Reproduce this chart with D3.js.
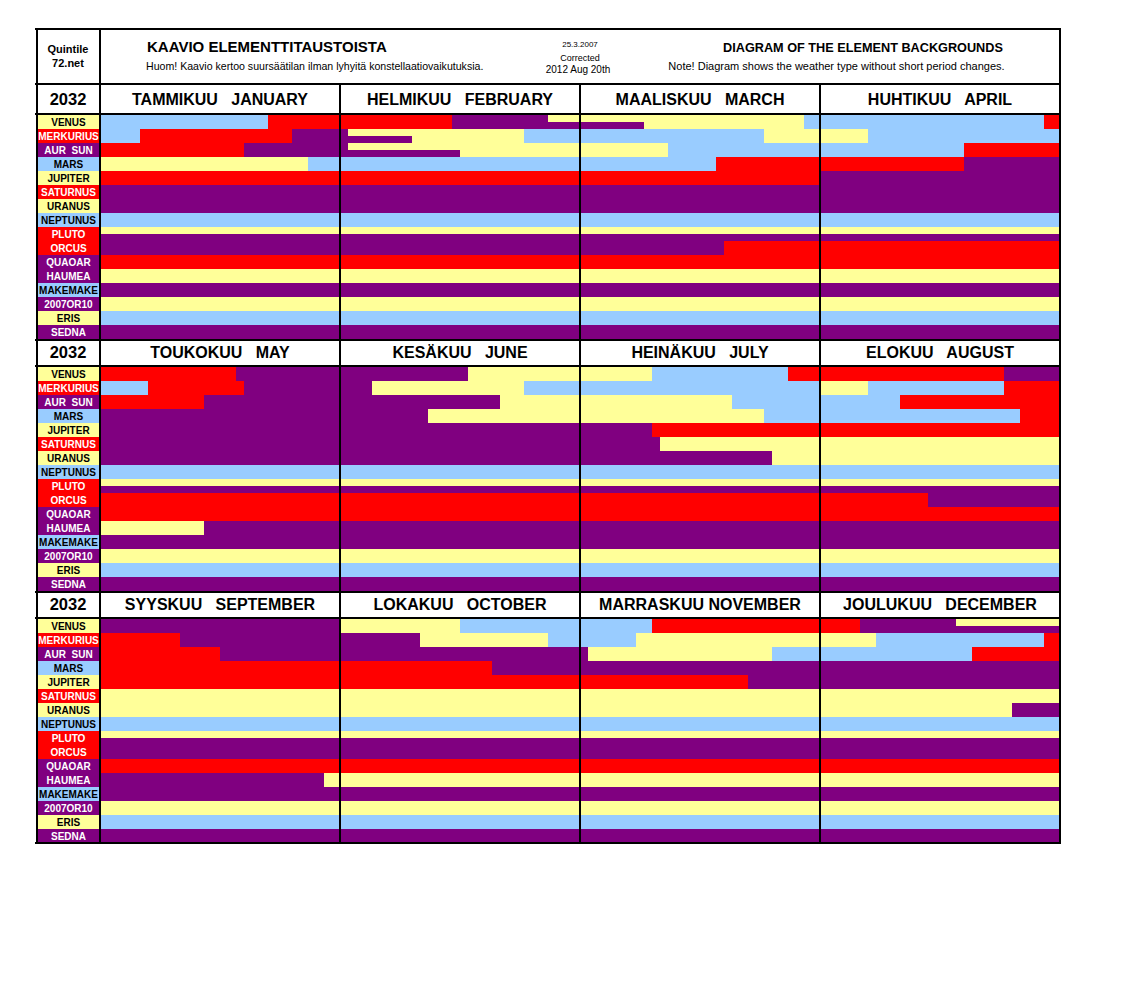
<!DOCTYPE html>
<html><head><meta charset="utf-8">
<script src="https://cdn.jsdelivr.net/npm/d3@7"></script>
<style>body{margin:0;background:#fff}svg{display:block}</style>
</head><body><svg id="c" width="1122" height="1000"></svg>
<script>
// ---------------- DATA ----------------
const COLORS = {R:"#FF0000", P:"#800080", Y:"#FFFF99", B:"#99CCFF"};
const year = "2032";
const monthTitles = ["TAMMIKUU   JANUARY","HELMIKUU   FEBRUARY","MAALISKUU   MARCH","HUHTIKUU   APRIL",
  "TOUKOKUU   MAY","KESÄKUU   JUNE","HEINÄKUU   JULY","ELOKUU   AUGUST",
  "SYYSKUU   SEPTEMBER","LOKAKUU   OCTOBER","MARRASKUU NOVEMBER","JOULUKUU   DECEMBER"];
const planets = ["VENUS","MERKURIUS","AUR  SUN","MARS","JUPITER","SATURNUS","URANUS","NEPTUNUS",
  "PLUTO","ORCUS","QUAOAR","HAUMEA","MAKEMAKE","2007OR10","ERIS","SEDNA"];
const labelColors = ["Y","R","P","B","Y","R","Y","B","R","R","P","P","B","P","Y","P"];

// change points: [position in months (0 = start of Jan, 12 = end of Dec), colour]
const venusTop = [[0,"B"],[0.70,"R"],[1.467,"P"],[1.867,"Y"],[2.933,"B"],[3.933,"R"],[4.567,"P"],[5.533,"Y"],
  [6.30,"B"],[6.867,"R"],[7.767,"P"],[9.0,"Y"],[9.5,"B"],[10.3,"R"],[11.167,"P"],[11.567,"Y"]];
const venusBottom = [[0,"B"],[0.70,"R"],[1.467,"P"],[2.267,"Y"],[2.933,"B"],[3.933,"R"],[4.567,"P"],[5.533,"Y"],
  [6.30,"B"],[6.867,"R"],[7.767,"P"],[9.0,"Y"],[9.5,"B"],[10.3,"R"],[11.167,"P"]];
const merkuriusTop = [[0,"B"],[0.167,"R"],[0.80,"P"],[1.033,"Y"],[1.767,"B"],[2.767,"Y"],[3.2,"B"],[4.2,"R"],
  [4.6,"P"],[5.133,"Y"],[5.767,"B"],[7.0,"Y"],[7.2,"B"],[7.767,"R"],[8.333,"P"],[9.333,"Y"],[9.867,"B"],
  [10.233,"Y"],[11.233,"B"],[11.933,"R"]];
const merkuriusBottom = [[0,"B"],[0.167,"R"],[0.80,"P"],[1.30,"Y"],[1.767,"B"],[2.767,"Y"],[3.2,"B"],[4.2,"R"],
  [4.6,"P"],[5.133,"Y"],[5.767,"B"],[7.0,"Y"],[7.2,"B"],[7.767,"R"],[8.333,"P"],[9.333,"Y"],[9.867,"B"],
  [10.233,"Y"],[11.233,"B"],[11.933,"R"]];
const aurSunTop = [[0,"R"],[0.6,"P"],[1.033,"Y"],[2.367,"B"],[3.6,"R"],[4.433,"P"],[5.667,"Y"],[6.633,"B"],
  [7.333,"R"],[8.5,"P"],[10.033,"Y"],[10.8,"B"],[11.633,"R"]];
const aurSunBottom = [[0,"R"],[0.6,"P"],[1.5,"Y"],[2.367,"B"],[3.6,"R"],[4.433,"P"],[5.667,"Y"],[6.633,"B"],
  [7.333,"R"],[8.5,"P"],[10.033,"Y"],[10.8,"B"],[11.633,"R"]];
const mars = [[0,"Y"],[0.867,"B"],[2.567,"R"],[3.6,"P"],[5.367,"Y"],[6.767,"B"],[7.833,"R"],[9.633,"P"]];
const jupiter = [[0,"R"],[3.0,"P"],[6.3,"R"],[10.7,"P"]];
const saturnus = [[0,"P"],[6.333,"Y"]];
const uranus = [[0,"P"],[6.8,"Y"],[11.8,"P"]];
const neptunus = [[0,"B"]];
const plutoTop = [[0,"Y"]];
const plutoBottom = [[0,"P"]];
const orcus = [[0,"P"],[2.6,"R"],[7.45,"P"]];
const quaoar = [[0,"R"]];
const haumea = [[0,"Y"],[4.433,"P"],[8.933,"Y"]];
const makemake = [[0,"P"]];
const or10 = [[0,"Y"]];
const eris = [[0,"B"]];
const sedna = [[0,"P"]];

const tracks = [
  ["VENUS","top",venusTop],["VENUS","bottom",venusBottom],
  ["MERKURIUS","top",merkuriusTop],["MERKURIUS","bottom",merkuriusBottom],
  ["AUR  SUN","top",aurSunTop],["AUR  SUN","bottom",aurSunBottom],
  ["MARS","full",mars],["JUPITER","full",jupiter],["SATURNUS","full",saturnus],["URANUS","full",uranus],
  ["NEPTUNUS","full",neptunus],["PLUTO","top",plutoTop],["PLUTO","bottom",plutoBottom],
  ["ORCUS","full",orcus],["QUAOAR","full",quaoar],["HAUMEA","full",haumea],["MAKEMAKE","full",makemake],
  ["2007OR10","full",or10],["ERIS","full",eris],["SEDNA","full",sedna]
];

// ---------------- LAYOUT ----------------
const FONT = "'Liberation Sans', Arial, Helvetica, sans-serif";
const L = 36, LABEL_R = 100, R = 1060, TOP = 29, BOTTOM = 843;
const headerLines = [84, 340, 592];     // top line of each block header
const headerBaselines = [105, 358, 610];
const dataTops = [115, 367, 619];
const dataH = 224;

const svg = d3.select("#c");
const colScale = d3.scaleBand().domain(d3.range(4)).range([LABEL_R, R]);
const within = d3.scaleLinear().domain([0, 1]).range([0, colScale.bandwidth()]);
const rowScale = d3.scaleBand().domain(planets).range([0, dataH]);

// segments
const segs = [];
tracks.forEach(([planet, half, changes]) => {
  changes.forEach((c, i) => {
    const start = c[0], end = i + 1 < changes.length ? changes[i + 1][0] : 12;
    for (let m = Math.floor(start); m < Math.ceil(end); m++) {
      const s = Math.max(start, m), e = Math.min(end, m + 1);
      if (e <= s) continue;
      segs.push({planet, half, color: c[1], m, s: s - m, e: e - m});
    }
  });
});

const g = svg.append("g").attr("shape-rendering", "crispEdges");
g.selectAll("rect.seg").data(segs).join("rect").attr("class", "seg")
  .attr("x", d => Math.round(colScale(d.m % 4) + within(d.s)))
  .attr("width", d => Math.round(colScale(d.m % 4) + within(d.e)) - Math.round(colScale(d.m % 4) + within(d.s)))
  .attr("y", d => dataTops[Math.floor(d.m / 4)] + rowScale(d.planet) + (d.half === "bottom" ? rowScale.bandwidth() / 2 : 0))
  .attr("height", d => d.half === "full" ? rowScale.bandwidth() : rowScale.bandwidth() / 2)
  .attr("fill", d => COLORS[d.color]);

// row labels
const labelData = [];
dataTops.forEach((t, b) => planets.forEach((p, i) => labelData.push({b, p, i, t})));
g.selectAll("rect.lab").data(labelData).join("rect").attr("class", "lab")
  .attr("x", L).attr("width", LABEL_R - L)
  .attr("y", d => d.t + rowScale(d.p)).attr("height", rowScale.bandwidth())
  .attr("fill", d => COLORS[labelColors[d.i]]);
svg.selectAll("text.lab").data(labelData).join("text").attr("class", "lab")
  .attr("x", (L + LABEL_R) / 2 + 0.5).attr("y", d => d.t + rowScale(d.p) + 10.5)
  .attr("text-anchor", "middle").attr("font-family", FONT).attr("font-weight", "bold")
  .attr("font-size", 10).style("white-space", "pre")
  .attr("fill", d => (labelColors[d.i] === "R" || labelColors[d.i] === "P") ? "#fff" : "#000")
  .text(d => d.p);

// block headers
headerLines.forEach((hy, b) => {
  svg.append("text").attr("x", (L + LABEL_R) / 2).attr("y", headerBaselines[b])
    .attr("text-anchor", "middle").attr("font-family", FONT).attr("font-weight", "bold")
    .attr("font-size", 16.5).text(year);
  for (let c = 0; c < 4; c++) {
    svg.append("text").attr("x", colScale(c) + colScale.bandwidth() / 2).attr("y", headerBaselines[b])
      .attr("text-anchor", "middle").attr("font-family", FONT).attr("font-weight", "bold")
      .attr("font-size", 16).style("white-space", "pre").text(monthTitles[b * 4 + c]);
  }
});

// title row
const T = (x, y, txt, size, bold, anchor) => svg.append("text").attr("x", x).attr("y", y)
  .attr("font-family", FONT).attr("font-size", size).attr("font-weight", bold ? "bold" : "normal")
  .attr("text-anchor", anchor || "start").style("white-space", "pre").text(txt);
T(68, 53, "Quintile", 11, true, "middle");
T(68, 67, "72.net", 11, true, "middle");
T(147, 51.5, "KAAVIO ELEMENTTITAUSTOISTA", 15, true);
T(146, 70, "Huom! Kaavio kertoo suursäätilan ilman lyhyitä konstellaatiovaikutuksia.", 10.6, false);
T(580, 47, "25.3.2007", 8, false, "middle");
T(580, 60.5, "Corrected", 9, false, "middle");
T(578, 73, "2012 Aug 20th", 10, false, "middle");
T(863, 51.5, "DIAGRAM OF THE ELEMENT BACKGROUNDS", 12.7, true, "middle");
T(836.5, 70, "Note! Diagram shows the weather type without short period changes.", 11, false, "middle");

// grid lines
const lines = svg.append("g").attr("stroke", "#000").attr("stroke-width", 2).attr("shape-rendering", "crispEdges");
[TOP, 84, 114, 340, 366, 592, 618, BOTTOM].forEach(y =>
  lines.append("line").attr("x1", L - 1).attr("x2", R + 1).attr("y1", y).attr("y2", y));
[L + 1, LABEL_R, R].forEach(x =>
  lines.append("line").attr("x1", x).attr("x2", x).attr("y1", TOP - 1).attr("y2", BOTTOM + 1));
[1, 2, 3].forEach(c =>
  lines.append("line").attr("x1", colScale(c)).attr("x2", colScale(c)).attr("y1", 84).attr("y2", BOTTOM + 1));
</script></body></html>
